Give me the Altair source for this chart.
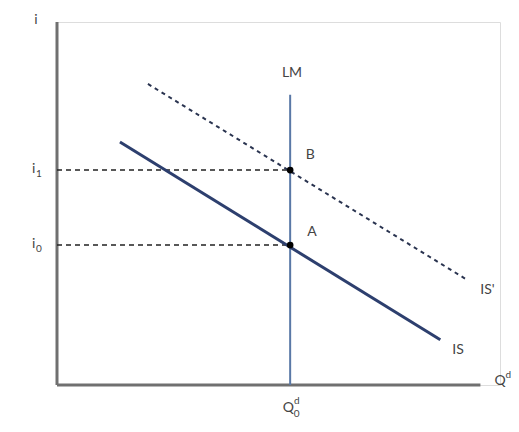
import altair as alt
import pandas as pd

# Values (data units)
X_MAX = 9.5
X_AXIS_END = 9.08
Y_MAX = 10.37
Q0 = 5.0
I0 = 4.0
I1 = 6.14
LM_TOP = 8.29

is_x = [1.35, 8.22]
is_y = [6.94, 1.29]
is2_x = [1.95, 8.8]
is2_y = [8.6, 3.0]

label_text = ["i", "i", "i", "LM", "B", "A", "IS'", "IS", "Q", "Q"]
label_x = [-0.45, -0.5, -0.5, 5.04, 5.43, 5.47, 9.23, 8.6, 9.5, 4.96]
label_y = [10.43, 6.17, 4.03, 8.9, 6.57, 4.37, 2.71, 1.0, 0.11, -0.66]

small_text = ["1", "0", "d", "d", "0"]
small_x = [-0.39, -0.39, 9.68, 5.14, 5.14]
small_y = [6.02, 3.88, 0.29, -0.47, -0.84]

xs = alt.Scale(domain=[0, X_MAX], nice=False, zero=False)
ys = alt.Scale(domain=[0, Y_MAX], nice=False, zero=False)
X = lambda f: alt.X(f, type="quantitative", scale=xs, axis=None)
Y = lambda f: alt.Y(f, type="quantitative", scale=ys, axis=None)

axes_df = pd.DataFrame({"x": [0, 0], "y": [0, 0], "x2": [0, X_AXIS_END], "y2": [Y_MAX, 0]})
axes = alt.Chart(axes_df).mark_rule(color="#707070", strokeWidth=3).encode(
    x=X("x"), y=Y("y"), x2="x2", y2="y2")

lm_df = pd.DataFrame({"x": [Q0], "y": [0], "y2": [LM_TOP]})
lm = alt.Chart(lm_df).mark_rule(color="#5a78a6", strokeWidth=2).encode(
    x=X("x"), y=Y("y"), y2="y2")

dash_df = pd.DataFrame({"x": [0, 0], "x2": [Q0, Q0], "y": [I0, I1]})
dashes = alt.Chart(dash_df).mark_rule(color="#222222", strokeWidth=1.5, strokeDash=[5, 4]).encode(
    x=X("x"), x2="x2", y=Y("y"))

is_df = pd.DataFrame({"x": is_x, "y": is_y})
is_line = alt.Chart(is_df).mark_line(color="#2d3f6e", strokeWidth=3).encode(x=X("x"), y=Y("y"))

is2_df = pd.DataFrame({"x": is2_x, "y": is2_y})
is2_line = alt.Chart(is2_df).mark_line(color="#2a3450", strokeWidth=2, strokeDash=[4, 4]).encode(
    x=X("x"), y=Y("y"))

pts_df = pd.DataFrame({"x": [Q0, Q0], "y": [I0, I1]})
pts = alt.Chart(pts_df).mark_circle(color="#000000", size=45, opacity=1).encode(x=X("x"), y=Y("y"))

lab_df = pd.DataFrame({"t": label_text, "x": label_x, "y": label_y})
labels = alt.Chart(lab_df).mark_text(font="Lato", fontSize=14, color="#444444",
                                     align="center", baseline="middle", clip=False).encode(
    x=X("x"), y=Y("y"), text="t")

small_df = pd.DataFrame({"t": small_text, "x": small_x, "y": small_y})
small = alt.Chart(small_df).mark_text(font="Lato", fontSize=10, color="#444444",
                                      align="center", baseline="middle", clip=False).encode(
    x=X("x"), y=Y("y"), text="t")

chart = alt.layer(axes, lm, dashes, is_line, is2_line, pts, labels, small).properties(
    width=443, height=363,
    padding={"left": 49, "top": 14, "right": 11, "bottom": 39},
    autosize=alt.AutoSizeParams(type="none"),
).configure_view(stroke=None).configure(background="white")

chart.save("out.html", embed_options={"renderer": "svg", "actions": False})
